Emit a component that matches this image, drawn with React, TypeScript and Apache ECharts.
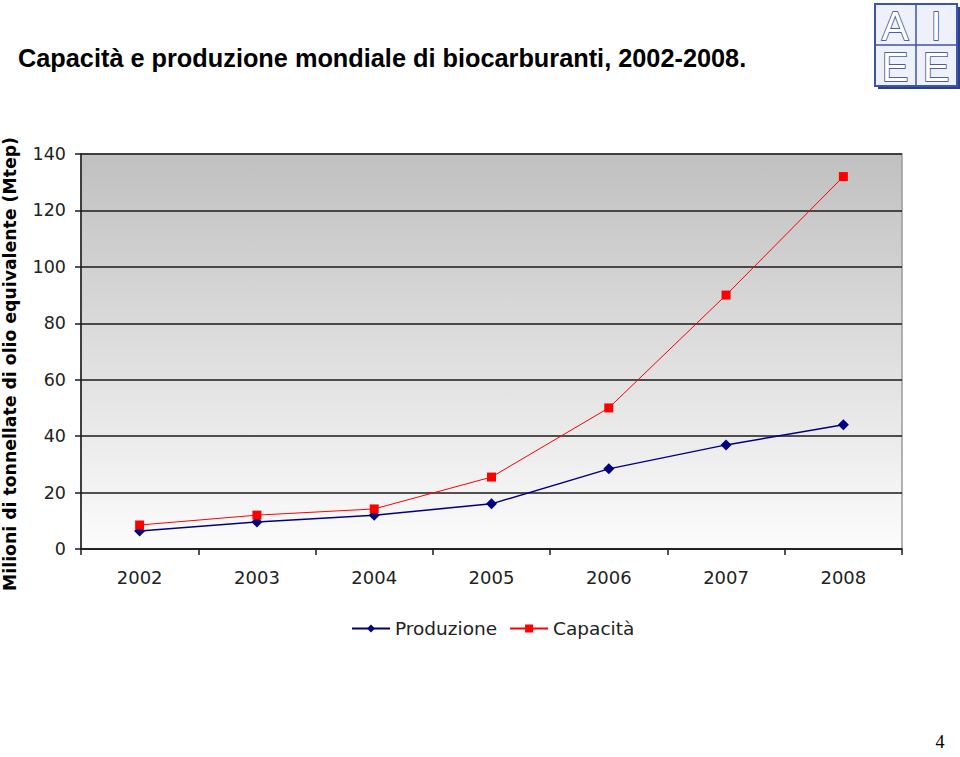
import React, { useEffect, useRef } from "react";
import * as echarts from "echarts";

const years = ["2002", "2003", "2004", "2005", "2006", "2007", "2008"];
const produzione = [6.4, 9.6, 12, 16, 28.4, 36.9, 44];
const capacita = [8.5, 12, 14.2, 25.5, 50, 90, 132];
const titleText = "Capacità e produzione mondiale di biocarburanti, 2002-2008.";
const yAxisTitle = "Milioni di tonnellate di olio equivalente (Mtep)";

export default function App() {
  const ref = useRef<HTMLDivElement>(null);
  useEffect(() => {
    if (!ref.current) return;
    const chart = echarts.init(ref.current, null, { renderer: "svg" });
    const logoX = 875, logoY = 4, logoS = 82;
    const letter = (t: string, cx: number, cy: number) => ({
      type: "text",
      x: cx,
      y: cy,
      style: {
        text: t,
        fill: "#ffffff",
        stroke: "#2a3f8f",
        lineWidth: 1.5,
        font: "40px 'Liberation Sans', Arial, sans-serif",
        align: "center",
        verticalAlign: "middle",
      },
    });
    chart.setOption({
      animation: false,
      backgroundColor: "#ffffff",
      title: {
        text: titleText,
        left: 13,
        top: 40,
        textStyle: {
          fontFamily: "'Liberation Sans', Arial, sans-serif",
          fontWeight: "bold",
          fontSize: 25.3,
          color: "#000",
        },
      },
      legend: {
        bottom: 114,
        left: 346,
        itemWidth: 38,
        itemHeight: 10,
        itemGap: 12,
        textStyle: {
          fontFamily: "'DejaVu Sans', Verdana, sans-serif",
          fontSize: 18.5,
          color: "#222",
        },
        data: ["Produzione", "Capacità"],
      },
      grid: {
        left: 81,
        right: 58,
        top: 154,
        bottom: 208,
        show: true,
        borderColor: "#9a9a9a",
        borderWidth: 1.5,
        backgroundColor: new echarts.graphic.LinearGradient(0, 0, 0, 1, [
          { offset: 0, color: "#c0c0c0" },
          { offset: 1, color: "#fcfcfc" },
        ]),
      },
      xAxis: {
        type: "category",
        data: years,
        boundaryGap: true,
        axisLine: { lineStyle: { color: "#1a1a1a", width: 1.5 } },
        axisTick: { show: true, length: 6, lineStyle: { color: "#1a1a1a", width: 1.5 } },
        axisLabel: {
          margin: 19,
          fontFamily: "'DejaVu Sans', Verdana, sans-serif",
          fontSize: 18,
          color: "#222",
        },
      },
      yAxis: {
        type: "value",
        min: 0,
        max: 140,
        interval: 20,
        axisLine: { show: true, lineStyle: { color: "#1a1a1a", width: 1.5 } },
        axisTick: { show: true, length: 6, lineStyle: { color: "#1a1a1a", width: 1.5 } },
        splitLine: { show: true, lineStyle: { color: "#1a1a1a", width: 1.5 } },
        axisLabel: {
          margin: 15,
          fontFamily: "'DejaVu Sans', Verdana, sans-serif",
          fontSize: 17.5,
          color: "#222",
        },
      },
      series: [
        {
          name: "Produzione",
          type: "line",
          data: produzione,
          symbol: "diamond",
          symbolSize: 11,
          itemStyle: { color: "#000080" },
          lineStyle: { color: "#000080", width: 1.5 },
        },
        {
          name: "Capacità",
          type: "line",
          data: capacita,
          symbol: "rect",
          symbolSize: 9,
          itemStyle: { color: "#ff0000" },
          lineStyle: { color: "#ff0000", width: 1 },
        },
      ],
      graphic: [
        {
          type: "text",
          x: 10,
          y: 364,
          rotation: Math.PI / 2,
          style: {
            text: yAxisTitle,
            font: "bold 17.3px 'DejaVu Sans', Verdana, sans-serif",
            fill: "#000",
            align: "center",
            verticalAlign: "middle",
          },
        },
        {
          type: "rect",
          shape: { x: logoX + 3, y: logoY + 3, width: logoS, height: logoS },
          style: { fill: "#2a3f8f" },
        },
        {
          type: "rect",
          shape: { x: logoX, y: logoY, width: logoS, height: logoS },
          style: { fill: "#eef1fa", stroke: "#3b55a8", lineWidth: 2 },
        },
        {
          type: "line",
          shape: { x1: logoX + logoS / 2, y1: logoY, x2: logoX + logoS / 2, y2: logoY + logoS },
          style: { stroke: "#3b55a8", lineWidth: 1.5 },
        },
        {
          type: "line",
          shape: { x1: logoX, y1: logoY + logoS / 2, x2: logoX + logoS, y2: logoY + logoS / 2 },
          style: { stroke: "#3b55a8", lineWidth: 1.5 },
        },
        letter("A", logoX + 20, logoY + 22),
        letter("I", logoX + 61, logoY + 22),
        letter("E", logoX + 20, logoY + 63),
        letter("E", logoX + 61, logoY + 63),
        {
          type: "text",
          x: 940,
          y: 751,
          style: {
            text: "4",
            font: "18px 'Liberation Serif', 'Times New Roman', serif",
            fill: "#000",
            align: "center",
            verticalAlign: "bottom",
          },
        },
      ],
    });
    return () => chart.dispose();
  }, []);
  return (
    <div
      ref={ref}
      style={{ position: "fixed", left: 0, top: 0, width: 960, height: 757 }}
    />
  );
}
